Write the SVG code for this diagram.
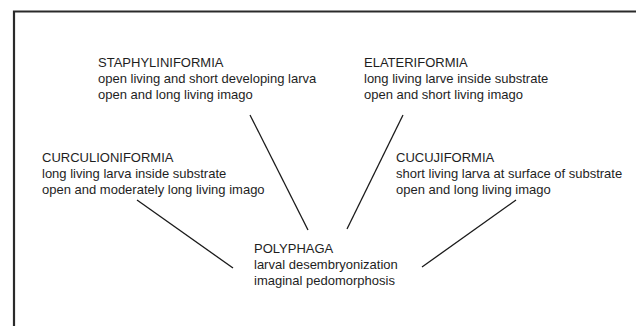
<svg xmlns="http://www.w3.org/2000/svg" width="636" height="326" viewBox="0 0 636 326">
<style>
text{font-family:"Liberation Sans",Arial,sans-serif;font-size:13px;fill:#1e1e1e}
.c{stroke:#1a1a1a;stroke-width:1.3;fill:none}
.f{stroke:#2a2a2a;stroke-width:2.2;fill:none}
</style>
<rect width="636" height="326" fill="#fff"/>
<path class="f" d="M14 326 V11.5 H636"/>
<g id="staphyliniformia">
<text x="98" y="67">STAPHYLINIFORMIA</text>
<text x="98" y="83">open living and short developing larva</text>
<text x="98" y="99">open and long living imago</text>
</g>
<g id="elateriformia">
<text x="364" y="67">ELATERIFORMIA</text>
<text x="364" y="83">long living larve inside substrate</text>
<text x="364" y="99">open and short living imago</text>
</g>
<g id="curculioniformia">
<text x="42" y="162">CURCULIONIFORMIA</text>
<text x="42" y="178">long living larva inside substrate</text>
<text x="42" y="194">open and moderately long living imago</text>
</g>
<g id="cucujiformia">
<text x="396" y="162">CUCUJIFORMIA</text>
<text x="396" y="178">short living larva at surface of substrate</text>
<text x="396" y="194">open and long living imago</text>
</g>
<g id="polyphaga">
<text x="254" y="253">POLYPHAGA</text>
<text x="254" y="269">larval desembryonization</text>
<text x="254" y="285">imaginal pedomorphosis</text>
</g>
<g id="connectors">
<line class="c" x1="250" y1="115" x2="308" y2="230"/>
<line class="c" x1="403" y1="115" x2="347" y2="229"/>
<line class="c" x1="137" y1="200" x2="233" y2="268"/>
<line class="c" x1="516" y1="200" x2="422" y2="267"/>
</g>
</svg>
